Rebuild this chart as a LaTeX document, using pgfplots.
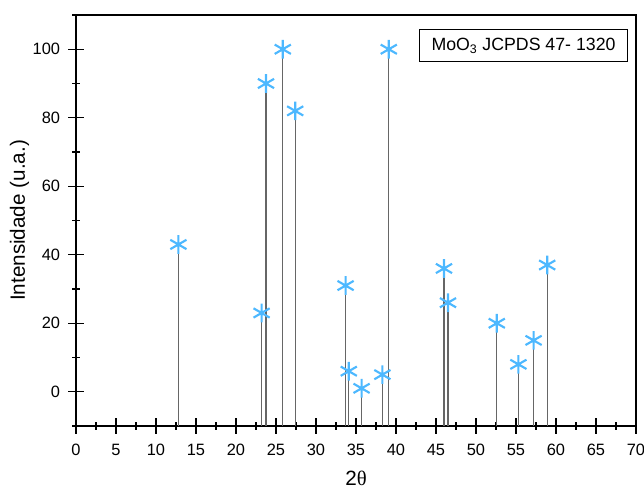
\documentclass[border=0pt]{standalone}
\usepackage{fontspec}
\setmainfont{Liberation Sans}
\newfontfamily\serifgr{Liberation Serif}
\usepackage{pgfplots}
\usepackage{pgfplotstable}
\pgfplotsset{compat=1.18}

\definecolor{starblue}{RGB}{77,184,255}

% MoO3 JCPDS 47-1320: 2theta, relative intensity
\pgfplotstableread{
x y
12.8 43
23.2 23
23.75 90
25.85 100
27.4 82
33.7 31
34.1 6
35.7 1
38.3 5
39.1 100
46.0 36
46.5 26
52.6 20
55.3 8
57.2 15
58.9 37
}\peaks

\begin{document}
\fontsize{12pt}{14pt}\selectfont
\begin{tikzpicture}
\path[use as bounding box] (-57pt,-47.25pt) rectangle (426pt,319.5pt);
\begin{axis}[
  at={(0,0)}, anchor=south west,
  scale only axis,
  width=420pt, height=308.25pt,
  xmin=0, xmax=70, ymin=-10, ymax=110,
  xtick={0,5,...,70},
  minor xtick={2.5,7.5,...,67.5},
  ytick={0,20,...,100},
  minor ytick={-10,10,...,110},
  tick align=center,
  major tick length=11.5pt,
  minor tick length=5.5pt,
  xtick pos=bottom, ytick pos=left,
  tick style={black, line width=1pt},
  axis line style={line width=1.1pt},
  /pgf/number format/assume math mode=true,
  ticklabel style={font=\fontsize{12.3pt}{14pt}\selectfont},
  xticklabel style={yshift=-3.5pt},
  yticklabel style={xshift=-2pt},
  label style={font=\fontsize{15.5pt}{18pt}\selectfont},
  xlabel={2{\serifgr θ}},
  ylabel={Intensidade (u.a.)},
  xlabel style={at={(axis description cs:0.5,-0.127)}, anchor=center},
  ylabel style={at={(axis description cs:-0.101,0.5)}, anchor=center},
  clip=false,
]
\addplot[only marks, mark=asterisk, mark size=7pt,
  mark options={starblue, line width=1.6pt},
  error bars/.cd, y dir=minus, y explicit,
  error bar style={black!60, line width=0.8pt}, error mark=none]
  table[x=x, y=y, y error expr=\thisrow{y}+10] {\peaks};
\node[draw, line width=0.7pt, anchor=north east, minimum width=156pt, minimum height=24pt,
  inner sep=2pt, font=\fontsize{13.3pt}{15pt}\selectfont]
  at ([xshift=-6pt, yshift=-10.5pt]axis description cs:1,1)
  {MoO\textsubscript{3} JCPDS 47- 1320};
\end{axis}
\end{tikzpicture}
\end{document}
